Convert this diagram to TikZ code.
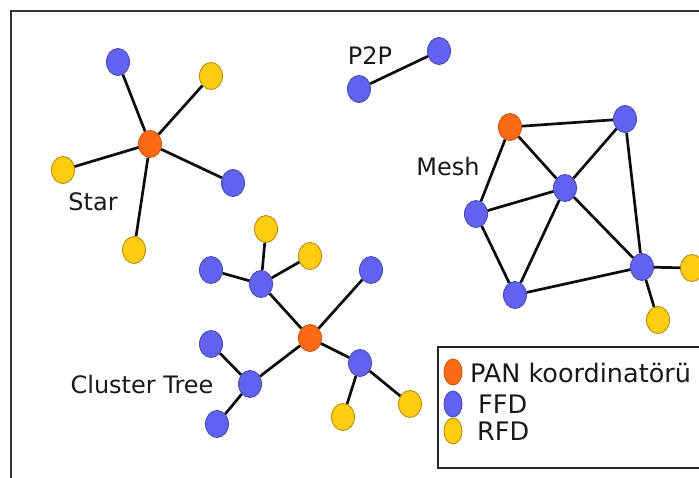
\documentclass[tikz,border=0pt]{standalone}
\usepackage{fontspec}
\setmainfont{DejaVu Sans}
\usetikzlibrary{shapes.geometric}
\definecolor{pancol}{HTML}{FF6A14}
\definecolor{ffdcol}{HTML}{6262F0}
\definecolor{rfdcol}{HTML}{FFCC10}
\tikzset{
  dev/.style={ellipse, inner sep=0pt, minimum width=23pt, minimum height=27pt, line width=0.9pt},
  pan/.style={dev, fill=pancol, draw=pancol!80!black},
  ffd/.style={dev, fill=ffdcol, draw=ffdcol!75!black},
  rfd/.style={dev, fill=rfdcol, draw=rfdcol!70!black},
  link/.style={line width=2.7pt, black!95},
  lbl/.style={font=\fontsize{24}{28}\selectfont, inner sep=0pt, text=black!90},
  legtext/.style={font=\fontsize{25.5}{30}\selectfont, inner sep=0pt, anchor=west, text=black!90},
}
\begin{document}
\begin{tikzpicture}[x=1pt, y=-1pt]
\useasboundingbox (0,0) rectangle (699,477);
\fill[white] (0,0) rectangle (699,477);
% outer frame, running past the right and bottom edges
\draw[line width=2pt, black!80] (11,480) -- (11,11) -- (702,11);

% ---- Star ----
\node[pan] (sc) at (150,144) {};
\node[ffd] (s1) at (118,62) {};
\node[rfd] (s2) at (211,76) {};
\node[rfd] (s3) at (63,170) {};
\node[ffd] (s4) at (233,183) {};
\node[rfd] (s5) at (134,250) {};
\node[lbl] (starlbl) at (93,202) {Star};

% ---- P2P ----
\node[ffd] (p1) at (359,89) {};
\node[ffd] (p2) at (439,51) {};
\node[lbl] (p2plbl) at (370,56) {P2P};

% ---- Mesh ----
\node[pan] (m0) at (510,127) {};
\node[ffd] (m1) at (625,119) {};
\node[ffd] (m2) at (565,188) {};
\node[ffd] (m3) at (476,214) {};
\node[ffd] (m4) at (515,295) {};
\node[ffd] (m5) at (642,267) {};
\node[rfd] (m6) at (692,268) {};
\node[rfd] (m7) at (658,320) {};
\node[lbl] (meshlbl) at (448,167) {Mesh};

% ---- Cluster Tree ----
\node[pan] (c0) at (310,338) {};
\node[ffd] (ca) at (261,284) {};
\node[ffd] (ca1) at (211,270) {};
\node[rfd] (ca2) at (266,229) {};
\node[rfd] (ca3) at (310,256) {};
\node[ffd] (cb) at (371,270) {};
\node[ffd] (cc) at (360,363) {};
\node[rfd] (cc1) at (343,417) {};
\node[rfd] (cc2) at (410,404) {};
\node[ffd] (cd) at (250,384) {};
\node[ffd] (cd1) at (211,344) {};
\node[ffd] (cd2) at (217,424) {};
\node[lbl] (treelbl) at (142,385) {Cluster Tree};

% ---- Legend ----
\draw[line width=1.2pt, black!85] (702,347) -- (438,347) -- (438,468) -- (702,468);
\node[pan, minimum width=18pt, minimum height=26pt] (lg1) at (453,372) {};
\node[ffd, minimum width=18pt, minimum height=26pt] (lg2) at (453,404) {};
\node[rfd, minimum width=18pt, minimum height=26pt] (lg3) at (453,431) {};
\node[legtext] (lt1) at (470,373) {PAN koordinatörü};
\node[legtext] (lt2) at (478,404) {FFD};
\node[legtext] (lt3) at (477,431) {RFD};

% ---- connectors ----
\foreach \a/\b in {sc/s1, sc/s2, sc/s3, sc/s4, sc/s5,
                   p1/p2,
                   m0/m1, m0/m2, m0/m3, m1/m2, m1/m5, m2/m3, m2/m4, m2/m5,
                   m3/m4, m4/m5, m5/m6, m5/m7,
                   c0/ca, ca/ca1, ca/ca2, ca/ca3, c0/cb, c0/cc, cc/cc1, cc/cc2,
                   c0/cd, cd/cd1, cd/cd2}
  \draw[link] (\a) -- (\b);
\end{tikzpicture}
\end{document}
